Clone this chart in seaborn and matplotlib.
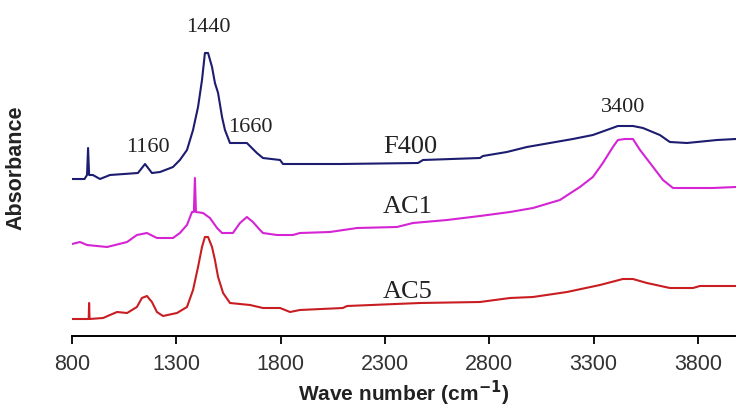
import numpy as np
import pandas as pd
import matplotlib
matplotlib.use("Agg")
import matplotlib.pyplot as plt
import seaborn as sns

# ---- data ----
f400_x = [800, 860, 872, 877, 882, 900, 934, 982, 1116, 1150, 1183, 1222, 1284, 1317, 1351,
          1380, 1404, 1423, 1437, 1452, 1471, 1485, 1500, 1519, 1533, 1557, 1638, 1686, 1715,
          1797, 1811, 1892, 2084, 2458, 2482, 2755, 2769, 2884, 2980, 3090, 3200, 3296, 3363,
          3416, 3488, 3536, 3617, 3665, 3747, 3891, 3982]
f400_y = [1.57, 1.57, 1.61, 1.88, 1.61, 1.61, 1.57, 1.61, 1.63, 1.72, 1.63, 1.64, 1.69, 1.76, 1.86,
          2.06, 2.29, 2.56, 2.83, 2.83, 2.69, 2.53, 2.43, 2.19, 2.06, 1.93, 1.93, 1.83, 1.78,
          1.76, 1.72, 1.72, 1.72, 1.73, 1.76, 1.78, 1.80, 1.84, 1.89, 1.93, 1.97, 2.01, 2.06,
          2.10, 2.10, 2.08, 2.01, 1.94, 1.93, 1.96, 1.97]

ac1_x = [800, 838, 872, 968, 1064, 1111, 1159, 1207, 1284, 1317, 1351, 1375, 1384, 1389, 1394,
         1428, 1461, 1495, 1519, 1571, 1605, 1638, 1667, 1701, 1715, 1782, 1859, 1892, 2036,
         2166, 2357, 2434, 2597, 2755, 2899, 3009, 3138, 3234, 3296, 3344, 3392, 3416, 3450,
         3488, 3522, 3570, 3632, 3680, 3871, 3982]
ac1_y = [0.92, 0.94, 0.91, 0.89, 0.94, 1.01, 1.03, 0.98, 0.98, 1.03, 1.11, 1.24, 1.24, 1.58, 1.24,
         1.23, 1.18, 1.08, 1.03, 1.03, 1.13, 1.19, 1.14, 1.06, 1.03, 1.01, 1.01, 1.03, 1.04,
         1.08, 1.09, 1.13, 1.16, 1.20, 1.24, 1.28, 1.36, 1.49, 1.59, 1.73, 1.89, 1.96, 1.97,
         1.97, 1.86, 1.73, 1.56, 1.48, 1.48, 1.49]

ac5_x = [800, 877, 880, 882, 884, 949, 982, 1016, 1064, 1111, 1135, 1159, 1183, 1207, 1236,
         1303, 1351, 1380, 1404, 1423, 1437, 1452, 1471, 1485, 1500, 1524, 1557, 1653, 1715,
         1797, 1845, 1892, 2098, 2118, 2467, 2755, 2899, 3009, 3172, 3330, 3440, 3488, 3555,
         3665, 3776, 3809, 3982]
ac5_y = [0.17, 0.17, 0.17, 0.33, 0.17, 0.18, 0.21, 0.24, 0.23, 0.29, 0.38, 0.40, 0.34, 0.24, 0.20,
         0.23, 0.29, 0.46, 0.69, 0.89, 0.99, 0.99, 0.89, 0.76, 0.59, 0.43, 0.33, 0.31, 0.28,
         0.28, 0.24, 0.26, 0.28, 0.30, 0.33, 0.34, 0.38, 0.39, 0.44, 0.51, 0.57, 0.57, 0.53,
         0.48, 0.48, 0.50, 0.50]

series_names = ["F400", "AC1", "AC5"]
series_colors = ["#1c1c70", "#d424d4", "#c81e22"]

peak_labels = ["1440", "1160", "1660", "3400"]
peak_x = [1452, 1164, 1653, 3440]
peak_y = [3.08, 1.88, 2.08, 2.28]

name_x = [2420, 2410, 2410]
name_y = [1.89, 1.29, 0.44]

xticks = [800, 1300, 1800, 2300, 2800, 3300, 3800]

# ---- build table ----
frames = []
for n, xs, ys in zip(series_names, [f400_x, ac1_x, ac5_x], [f400_y, ac1_y, ac5_y]):
    frames.append(pd.DataFrame({"wave": xs, "abs": ys, "sample": n}))
df = pd.concat(frames, ignore_index=True)

sns.set_style("white")
plt.rcParams["font.family"] = ["Liberation Sans", "DejaVu Sans"]

fig = plt.figure(figsize=(7.36, 4.09), dpi=100)
ax = fig.add_axes([72 / 736, (409 - 336) / 409, 1 - 72 / 736, 336 / 409])

sns.lineplot(data=df, x="wave", y="abs", hue="sample", palette=dict(zip(series_names, series_colors)),
             estimator=None, sort=False, linewidth=1.5, legend=False, ax=ax)

ax.set_xlim(800, 3982)
ax.set_ylim(0, 3.36)
ax.set_xticks(xticks)
ax.set_xticklabels([str(t) for t in xticks])
ax.set_yticks([])

for s in ["top", "right", "left"]:
    ax.spines[s].set_visible(False)
ax.spines["bottom"].set_color("black")
ax.spines["bottom"].set_linewidth(1.4)
ax.tick_params(axis="x", direction="out", length=6, width=1.3, color="black",
               labelsize=15.5, labelcolor="#333333", pad=7, bottom=True)

ax.set_xlabel(r"Wave number (cm$^{\mathbf{-1}}$)", fontsize=15, fontweight="bold",
              color="#222222", labelpad=3)
ax.set_ylabel("Absorbance", fontsize=15.5, fontweight="bold", color="#222222", labelpad=0)
ax.yaxis.set_label_coords(-0.068, 0.5)

serif = ["Liberation Serif", "DejaVu Serif"]
for t, x, y in zip(peak_labels, peak_x, peak_y):
    ax.text(x, y, t, ha="center", va="center", fontsize=16, family=serif, color="#222222")
for t, x, y in zip(series_names, name_x, name_y):
    ax.text(x, y, t, ha="center", va="center", fontsize=19, family=serif, color="#222222")

fig.savefig("out.png", dpi=100)
